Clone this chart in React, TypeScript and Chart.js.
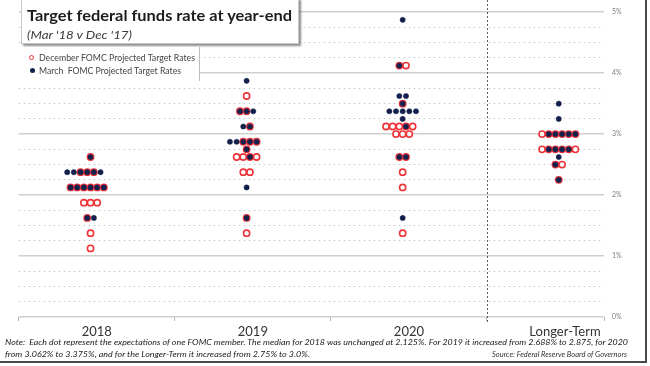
import React, { useEffect, useLayoutEffect, useRef } from "react";
import { Chart, registerables } from "chart.js";

Chart.register(...registerables);

// ---------- data ----------
const categories = ["2018", "2019", "2020", "Longer-Term"];
const yTickValues = [0, 1, 2, 3, 4, 5];

// Each row: a rate and a pattern of dots, left to right.
// D = December FOMC only, M = March FOMC only, B = both, . = empty slot
const rates2018 = [2.625, 2.375, 2.125, 1.875, 1.625, 1.375, 1.125];
const dots2018 = ["B", "MMBBBM..", "BBBBBB.", "DDD", "BM", "D", "D"];

const rates2019 = [3.875, 3.625, 3.375, 3.125, 2.875, 2.75, 2.625, 2.375, 2.125, 1.625, 1.375];
const dots2019 = ["M", "D", "BBM", "MB", "MMBBB.", "B", "DDBD", "DD", "M", "B", "D"];

const rates2020 = [4.875, 4.125, 3.625, 3.5, 3.375, 3.25, 3.125, 3.0, 2.625, 2.375, 2.125, 1.625, 1.375];
const dots2020 = ["M", "BD", "MM", "B", "MMMMM", "M", "DDDBD.", "DDD", "BB", "D", "D", "M", "D"];

const ratesLonger = [3.5, 3.25, 3.0, 2.75, 2.625, 2.5, 2.25];
const dotsLonger = ["M", "M", "DBBBBB", "DBBBBD", "M", "BD", "B"];

const columnRates = [rates2018, rates2019, rates2020, ratesLonger];
const columnDots = [dots2018, dots2019, dots2020, dotsLonger];

const decLabel = "December FOMC Projected Target Rates";
const marLabel = "March  FOMC Projected Target Rates";
const noteLine1 =
  "Note:  Each dot represent the expectations of one FOMC member. The median for 2018 was unchanged at 2.125%. For 2019 it increased from 2.688% to 2.875, for 2020";
const noteLine2 = "from 3.062% to 3.375%, and for the Longer-Term it increased from 2.75% to 3.0%.";
const sourceText = "Source: Federal Reserve Board of Governors";

// ---------- style ----------
const RED = "#ee3338";
const NAVY = "#13204d";
const X_MIN = -0.46;
const X_MAX = 3.29;
const SLOT = 0.0427; // horizontal spacing of dots in category units
const LABEL_SHIFT = 0.04;
const BOUNDARIES = [X_MIN, 0.54, 1.54, 2.54, X_MAX];
const DIVIDER = 2.54;
const FONT = "Lato, 'Open Sans', sans-serif";

function buildPoints() {
  const dec: { x: number; y: number }[] = [];
  const mar: { x: number; y: number }[] = [];
  columnRates.forEach((rates, ci) => {
    rates.forEach((rate, ri) => {
      const pat = columnDots[ci][ri];
      const n = pat.length;
      for (let j = 0; j < n; j++) {
        const c = pat[j];
        const x = ci + (j - (n - 1) / 2) * SLOT;
        if (c === "D" || c === "B") dec.push({ x, y: rate });
        if (c === "M" || c === "B") mar.push({ x, y: rate });
      }
    });
  });
  return { dec, mar };
}

const dividerPlugin = {
  id: "divider",
  beforeDatasetsDraw(chart: any) {
    const { ctx, chartArea } = chart;
    const x = Math.round(chart.scales.x.getPixelForValue(DIVIDER)) + 0.5;
    ctx.save();
    ctx.strokeStyle = "#5a5a5a";
    ctx.lineWidth = 1;
    ctx.setLineDash([2, 2]);
    ctx.beginPath();
    ctx.moveTo(x, 0);
    ctx.lineTo(x, chartArea.bottom + 5);
    ctx.stroke();
    ctx.restore();
  },
};

function Fit({ w, style, children }: { w: number; style: React.CSSProperties; children: React.ReactNode }) {
  const ref = useRef<HTMLSpanElement>(null);
  useLayoutEffect(() => {
    const el = ref.current;
    if (!el) return;
    el.style.transform = "none";
    const nat = el.getBoundingClientRect().width;
    if (nat > 0) el.style.transform = `scaleX(${w / nat})`;
  }, [w]);
  return (
    <span
      ref={ref}
      style={{ position: "absolute", whiteSpace: "pre", transformOrigin: "left top", fontFamily: FONT, ...style }}
    >
      {children}
    </span>
  );
}

export default function App() {
  const canvasRef = useRef<HTMLCanvasElement>(null);

  useEffect(() => {
    document.body.style.margin = "0";
    const canvas = canvasRef.current;
    if (!canvas) return;
    const { dec, mar } = buildPoints();
    const chart = new Chart(canvas, {
      type: "scatter",
      data: {
        datasets: [
          {
            label: marLabel,
            data: mar,
            order: 0,
            pointRadius: 2.6,
            pointBackgroundColor: NAVY,
            pointBorderColor: NAVY,
            pointBorderWidth: 0.5,
          },
          {
            label: decLabel,
            data: dec,
            order: 1,
            pointRadius: 3.1,
            pointBackgroundColor: "#ffffff",
            pointBorderColor: RED,
            pointBorderWidth: 1.6,
          },
        ],
      },
      options: {
        animation: false,
        responsive: false,
        events: [],
        layout: { padding: { left: 18.75, top: 11, right: 0, bottom: 23 } },
        plugins: {
          legend: { display: false },
          tooltip: { enabled: false },
          title: { display: false },
        },
        scales: {
          x: {
            type: "linear",
            min: X_MIN,
            max: X_MAX,
            position: "bottom",
            weight: 1,
            afterBuildTicks: (ax: any) => {
              ax.ticks = categories.map((_, i) => ({ value: i + LABEL_SHIFT }));
            },
            ticks: {
              callback: (_v: any, idx: number) => categories[idx],
              font: { family: FONT, size: 13 },
              color: "#333333",
              padding: 3,
              maxRotation: 0,
              autoSkip: false,
            },
            grid: { display: false, drawTicks: false },
            border: { display: false },
            afterFit: (s: any) => {
              s.height = 22;
            },
          },
          xb: {
            type: "linear",
            min: X_MIN,
            max: X_MAX,
            position: "bottom",
            weight: 0,
            afterBuildTicks: (ax: any) => {
              ax.ticks = BOUNDARIES.map((v) => ({ value: v }));
            },
            ticks: { display: false },
            grid: {
              drawOnChartArea: false,
              drawTicks: true,
              tickLength: 4,
              color: "#b5b5b5",
              tickColor: "#b5b5b5",
              lineWidth: 1,
            },
            border: { display: false },
            afterFit: (s: any) => {
              s.height = 4;
            },
          },
          y: {
            position: "right",
            min: 0,
            max: 5,
            afterBuildTicks: (ax: any) => {
              const t: { value: number }[] = [];
              for (let v = 0; v <= 5.0001; v += 0.25) t.push({ value: Math.round(v * 100) / 100 });
              ax.ticks = t;
            },
            ticks: {
              callback: (v: any) => (yTickValues.includes(Number(v)) ? `${v}%` : ""),
              font: { family: FONT, size: 7 },
              color: "#808080",
              padding: 8,
              autoSkip: false,
            },
            grid: {
              drawTicks: false,
              color: (ctx: any) =>
                ctx.tick && Number.isInteger(ctx.tick.value) ? "#cfcfcf" : "#c4c4c4",
              lineWidth: (ctx: any) => (ctx.tick && Number.isInteger(ctx.tick.value) ? 1.6 : 1),
            },
            border: {
              display: false,
              dash: (ctx: any) =>
                ctx.tick && !Number.isInteger(ctx.tick.value) ? [1.5, 3.5] : [],
            },
            afterFit: (s: any) => {
              s.width = 46;
            },
          },
        },
      } as any,
      plugins: [dividerPlugin],
    });
    return () => chart.destroy();
  }, []);

  return (
    <div style={{ position: "relative", width: 650, height: 366, overflow: "hidden", background: "#ffffff" }}>
      <canvas ref={canvasRef} width={650} height={366} style={{ position: "absolute", left: 0, top: 0 }} />

      {/* title box */}
      <div
        style={{
          position: "absolute",
          left: 21,
          top: -2,
          width: 276,
          height: 44,
          background: "#ffffff",
          border: "1px solid #c8c8c8",
          boxShadow: "2px 2px 2px rgba(0,0,0,0.45)",
        }}
      />
      <Fit w={265} style={{ left: 27, top: 6, fontSize: 15, lineHeight: "18px", fontWeight: 700, color: "#1c1c1c" }}>
        Target federal funds rate at year-end
      </Fit>
      <Fit w={105} style={{ left: 27, top: 27, fontSize: 12, lineHeight: "15px", fontStyle: "italic", color: "#3a3a3a" }}>
        (Mar '18 v Dec '17)
      </Fit>

      {/* legend box */}
      <div
        style={{
          position: "absolute",
          left: 14,
          top: 47,
          width: 185,
          height: 34,
          background: "#ffffff",
          borderRight: "1px solid #bdbdbd",
        }}
      />
      <div
        style={{
          position: "absolute",
          left: 29,
          top: 55,
          width: 3.4,
          height: 3.4,
          borderRadius: "50%",
          border: `1.6px solid ${RED}`,
          background: "#fff",
        }}
      />
      <div
        style={{
          position: "absolute",
          left: 29.5,
          top: 67.5,
          width: 5.5,
          height: 5.5,
          borderRadius: "50%",
          background: NAVY,
        }}
      />
      <Fit w={156} style={{ left: 39, top: 53, fontSize: 8.5, lineHeight: "10px", color: "#444" }}>
        {decLabel}
      </Fit>
      <Fit w={142} style={{ left: 39, top: 66, fontSize: 8.5, lineHeight: "10px", color: "#444" }}>
        {marLabel}
      </Fit>

      {/* note */}
      <Fit w={623} style={{ left: 5, top: 338, fontSize: 7.5, lineHeight: "9px", fontStyle: "italic", color: "#222" }}>
        {noteLine1}
      </Fit>
      <Fit w={305} style={{ left: 5, top: 350, fontSize: 7.5, lineHeight: "9px", fontStyle: "italic", color: "#222" }}>
        {noteLine2}
      </Fit>
      <Fit w={135} style={{ left: 492, top: 350, fontSize: 7, lineHeight: "9px", fontStyle: "italic", color: "#333" }}>
        {sourceText}
      </Fit>

      {/* frame */}
      <div style={{ position: "absolute", left: 645, top: 0, width: 2, height: 363, background: "#4a4a4a" }} />
      <div style={{ position: "absolute", left: 0, top: 361, width: 647, height: 2, background: "#4a4a4a" }} />
    </div>
  );
}
